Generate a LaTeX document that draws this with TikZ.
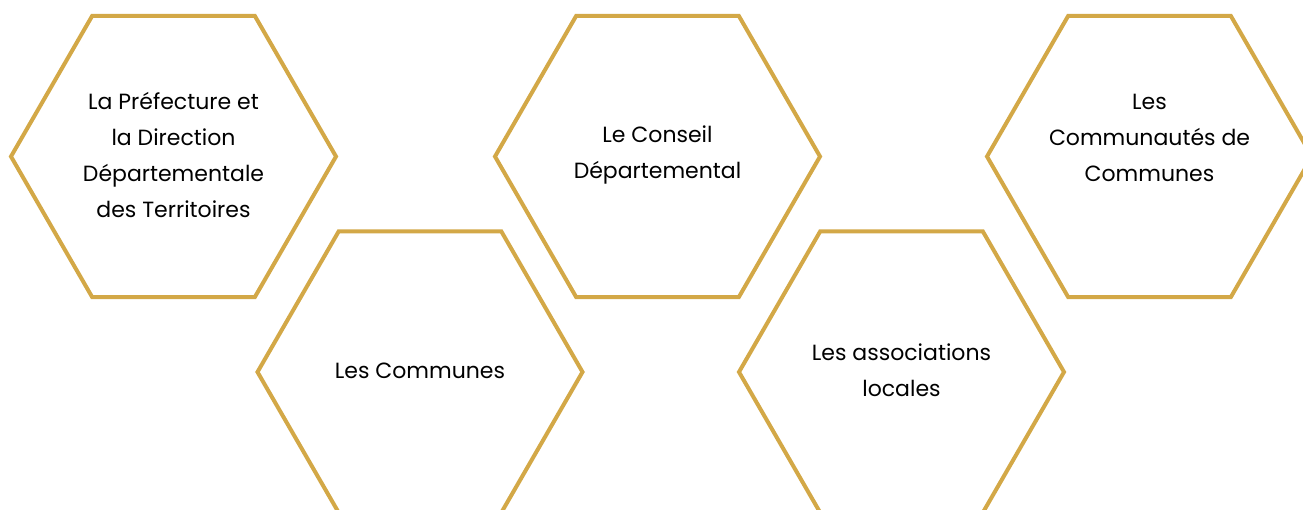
\documentclass[tikz,border=0pt]{standalone}
\usepackage{fontspec}
\setmainfont{Poppins}
\usetikzlibrary{shapes.geometric}
\definecolor{gold}{HTML}{D3A847}
\tikzset{
  hex/.style={regular polygon, regular polygon sides=6, minimum size=325pt,
    inner sep=0pt, outer sep=0pt, draw=gold, line width=4pt},
  lbl/.style={align=center, font=\fontsize{22}{36}\selectfont, text=black}
}
\begin{document}
\begin{tikzpicture}[x=1pt,y=-1pt]
\useasboundingbox (0,0) rectangle (1303,509);
\clip (0,0) rectangle (1303,509);
\node[hex] (h1) at (173.5,156.5) {};
\node[hex] (h2) at (657.5,156.5) {};
\node[hex] (h3) at (1149.5,156.5) {};
\node[hex] (h4) at (420,372) {};
\node[hex] (h5) at (901.5,372) {};
\node[lbl] (t1) at ([yshift=1.5pt]h1.center) {La Préfecture et\\la Direction\\Départementale\\des Territoires};
\node[lbl] (t2) at ([yshift=2pt]h2.center) {Le Conseil\\Départemental};
\node[lbl] (t3) at ([yshift=19pt]h3.center) {Les\\Communautés de\\Communes};
\node[lbl] (t4) at ([yshift=1pt]h4.center) {Les Communes};
\node[lbl] (t5) at ([yshift=2pt]h5.center) {Les associations\\locales};
\end{tikzpicture}
\end{document}
